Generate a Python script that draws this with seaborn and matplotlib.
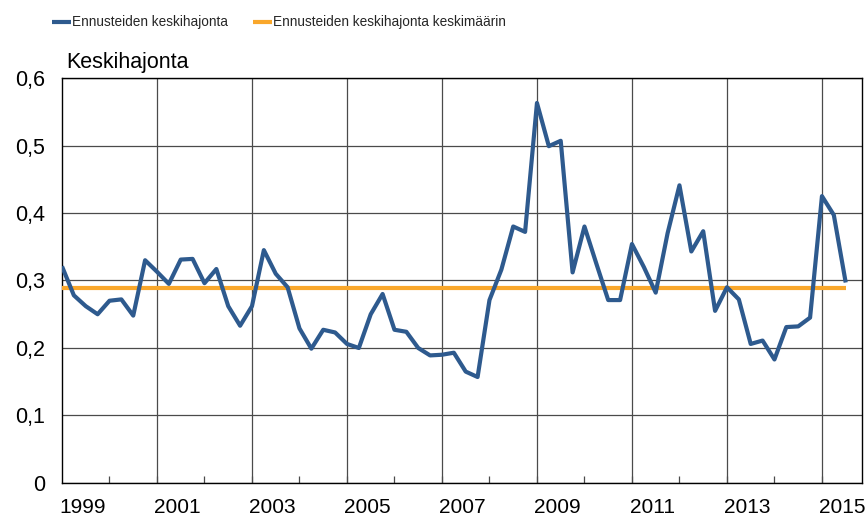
import matplotlib
matplotlib.use("Agg")
import matplotlib.pyplot as plt
import seaborn as sns
import pandas as pd

# Quarterly dispersion of forecasts, 1999Q1 - 2015Q3
quarter = list(range(67))
hajonta = [
    0.321, 0.278, 0.262, 0.250, 0.270, 0.272, 0.248, 0.330,
    0.313, 0.295, 0.331, 0.332, 0.296, 0.317, 0.262, 0.233,
    0.262, 0.345, 0.310, 0.290, 0.229, 0.199, 0.227, 0.223,
    0.206, 0.200, 0.250, 0.280, 0.227, 0.224, 0.200, 0.189,
    0.190, 0.193, 0.165, 0.157, 0.271, 0.316, 0.380, 0.372,
    0.563, 0.499, 0.507, 0.312, 0.380, 0.325, 0.271, 0.271,
    0.354, 0.320, 0.282, 0.370, 0.441, 0.343, 0.373, 0.255,
    0.290, 0.272, 0.206, 0.211, 0.183, 0.231, 0.232, 0.245,
    0.425, 0.397, 0.297,
]
keskiarvo = 0.289

year_labels = ["1999", "2001", "2003", "2005", "2007", "2009", "2011", "2013", "2015"]
y_ticks = [0.0, 0.1, 0.2, 0.3, 0.4, 0.5, 0.6]
y_labels = ["0", "0,1", "0,2", "0,3", "0,4", "0,5", "0,6"]

serie_nimi = "Ennusteiden keskihajonta"
ka_nimi = "Ennusteiden keskihajonta keskimäärin"

BLUE = "#2E5A8E"
ORANGE = "#F9A72B"
GRID = "#4a4a4a"

sns.set_theme(style="white")
plt.rcParams["font.family"] = ["Liberation Sans", "DejaVu Sans"]

df = pd.DataFrame({"q": quarter, "v": hajonta})
df_ka = pd.DataFrame({"q": [quarter[0], quarter[-1]], "v": [keskiarvo, keskiarvo]})

fig = plt.figure(figsize=(8.67, 5.18), dpi=100)
ax = fig.add_axes([0.0715, 0.0676, 0.9227, 0.7818])

sns.lineplot(data=df, x="q", y="v", ax=ax, color=BLUE, linewidth=2.6,
             label=serie_nimi, zorder=4)
sns.lineplot(data=df_ka, x="q", y="v", ax=ax, color=ORANGE, linewidth=2.6,
             label=ka_nimi, zorder=3)
for ln in ax.lines:
    ln.set_solid_capstyle("butt")

ax.set_xlim(0, 67.37)
ax.set_ylim(0, 0.6)

# horizontal grid from the y ticks
ax.set_yticks(y_ticks)
ax.set_yticklabels(y_labels, fontsize=15.5, color="black")
ax.tick_params(axis="y", length=0, pad=12)
ax.yaxis.grid(True, color=GRID, linewidth=0.9)

# vertical grid every two years, small inner ticks in between
ax.set_xticks([8 * i for i in range(1, 9)])
ax.set_xticks([4 + 8 * i for i in range(8)], minor=True)
ax.xaxis.grid(True, which="major", color=GRID, linewidth=0.9)
ax.tick_params(axis="x", which="both", direction="in", length=5, width=0.9,
               color=GRID, labelbottom=False, bottom=True)

# year labels centred on each year
sec = ax.secondary_xaxis("bottom")
sec.set_xticks([1.7 + 8 * i for i in range(len(year_labels))])
sec.set_xticklabels(year_labels, fontsize=15, color="black")
sec.tick_params(axis="x", length=0, pad=11)
sec.spines["bottom"].set_visible(False)

for s in ax.spines.values():
    s.set_visible(True)
    s.set_color("black")
    s.set_linewidth(1.0)

ax.set_xlabel("")
ax.set_ylabel("")
ax.text(0.005, 1.012, "Keskihajonta", transform=ax.transAxes, fontsize=15.5,
        ha="left", va="bottom", color="black")

handles, labels = ax.get_legend_handles_labels()
ax.get_legend().remove()
for h in handles:
    h.set_linewidth(3.0)
fig.legend(handles, labels, loc="center", bbox_to_anchor=(0.322, 0.957),
           ncol=2, frameon=False, handlelength=1.4, handletextpad=0.08,
           columnspacing=1.85, prop={"size": 9.8})

fig.savefig("out.png", dpi=100)
